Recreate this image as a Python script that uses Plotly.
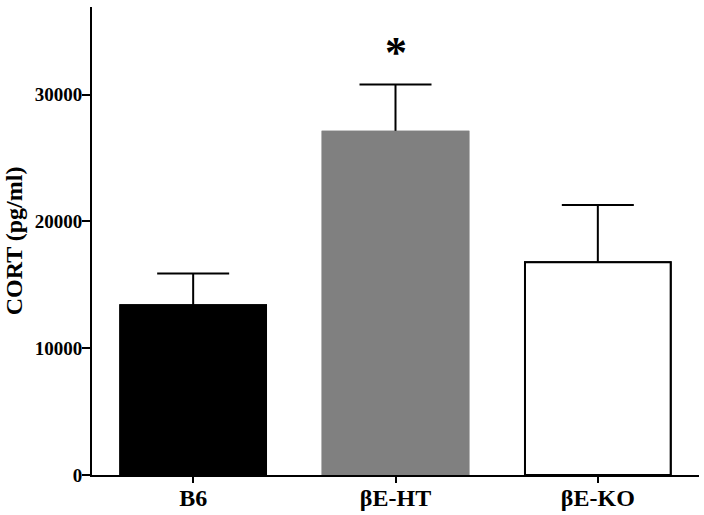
import plotly.graph_objects as go

# valores (media + error estandar, pg/ml)
grupos = ["B6", "βE-HT", "βE-KO"]
medias = [13380, 27060, 16780]
errores = [2510, 3720, 4510]
colores = ["#000000", "#808080", "#ffffff"]
bordes = ["#000000", "#808080", "#000000"]
y_ticks = [0, 10000, 20000, 30000]

FUENTE = "Liberation Serif, Times New Roman, serif"

fig = go.Figure()
# primera capa: barras con bigotes (el tramo inferior queda tapado por la segunda capa)
fig.add_trace(go.Bar(
    x=grupos, y=medias,
    marker=dict(color=colores, line=dict(color=bordes, width=2)),
    error_y=dict(type="data", array=errores, arrayminus=medias, symmetric=False,
                 color="black", thickness=2, width=36),
    hoverinfo="skip",
))
# segunda capa: las mismas barras encima
fig.add_trace(go.Bar(
    x=grupos, y=medias,
    marker=dict(color=colores, line=dict(color=bordes, width=2)),
))

fig.add_annotation(
    x=grupos[1], y=medias[1] + errores[1],
    text="*", showarrow=False, yanchor="bottom", yshift=6,
    font=dict(family=FUENTE, size=44, color="black", weight="bold"),
)
# titulo del eje y como anotacion (con automargin apagado el standoff no se aplica)
fig.add_annotation(
    xref="paper", yref="paper", x=-0.128, y=0.5, xanchor="center", yanchor="middle",
    text="CORT (pg/ml)", textangle=-90, showarrow=False,
    font=dict(family=FUENTE, size=24, color="black", weight="bold"),
)

eje = dict(showline=True, linecolor="black", linewidth=2, ticks="outside",
           tickcolor="black", tickwidth=2, showgrid=False, zeroline=False,
           automargin=False)
fig.update_layout(
    width=704, height=515,
    margin=dict(l=92, r=5, t=7, b=40),
    barmode="overlay", bargap=0.28, showlegend=False,
    plot_bgcolor="white", paper_bgcolor="white",
    xaxis=dict(**eje, ticklen=6, range=[-0.5, 2.5], ticklabelstandoff=-6,
               tickfont=dict(family=FUENTE, size=24, color="black", weight="bold")),
    yaxis=dict(**eje, ticklen=8, range=[0, 36900], tickvals=y_ticks,
               ticktext=[str(v) for v in y_ticks], ticklabelstandoff=-4,
               tickfont=dict(family=FUENTE, size=19, color="black", weight="bold")),
)
# sin el margen de 8 px que el navegador pone al body
fig.write_html("out.html", config={"displayModeBar": False},
               post_script="document.body.style.margin = '0';")
